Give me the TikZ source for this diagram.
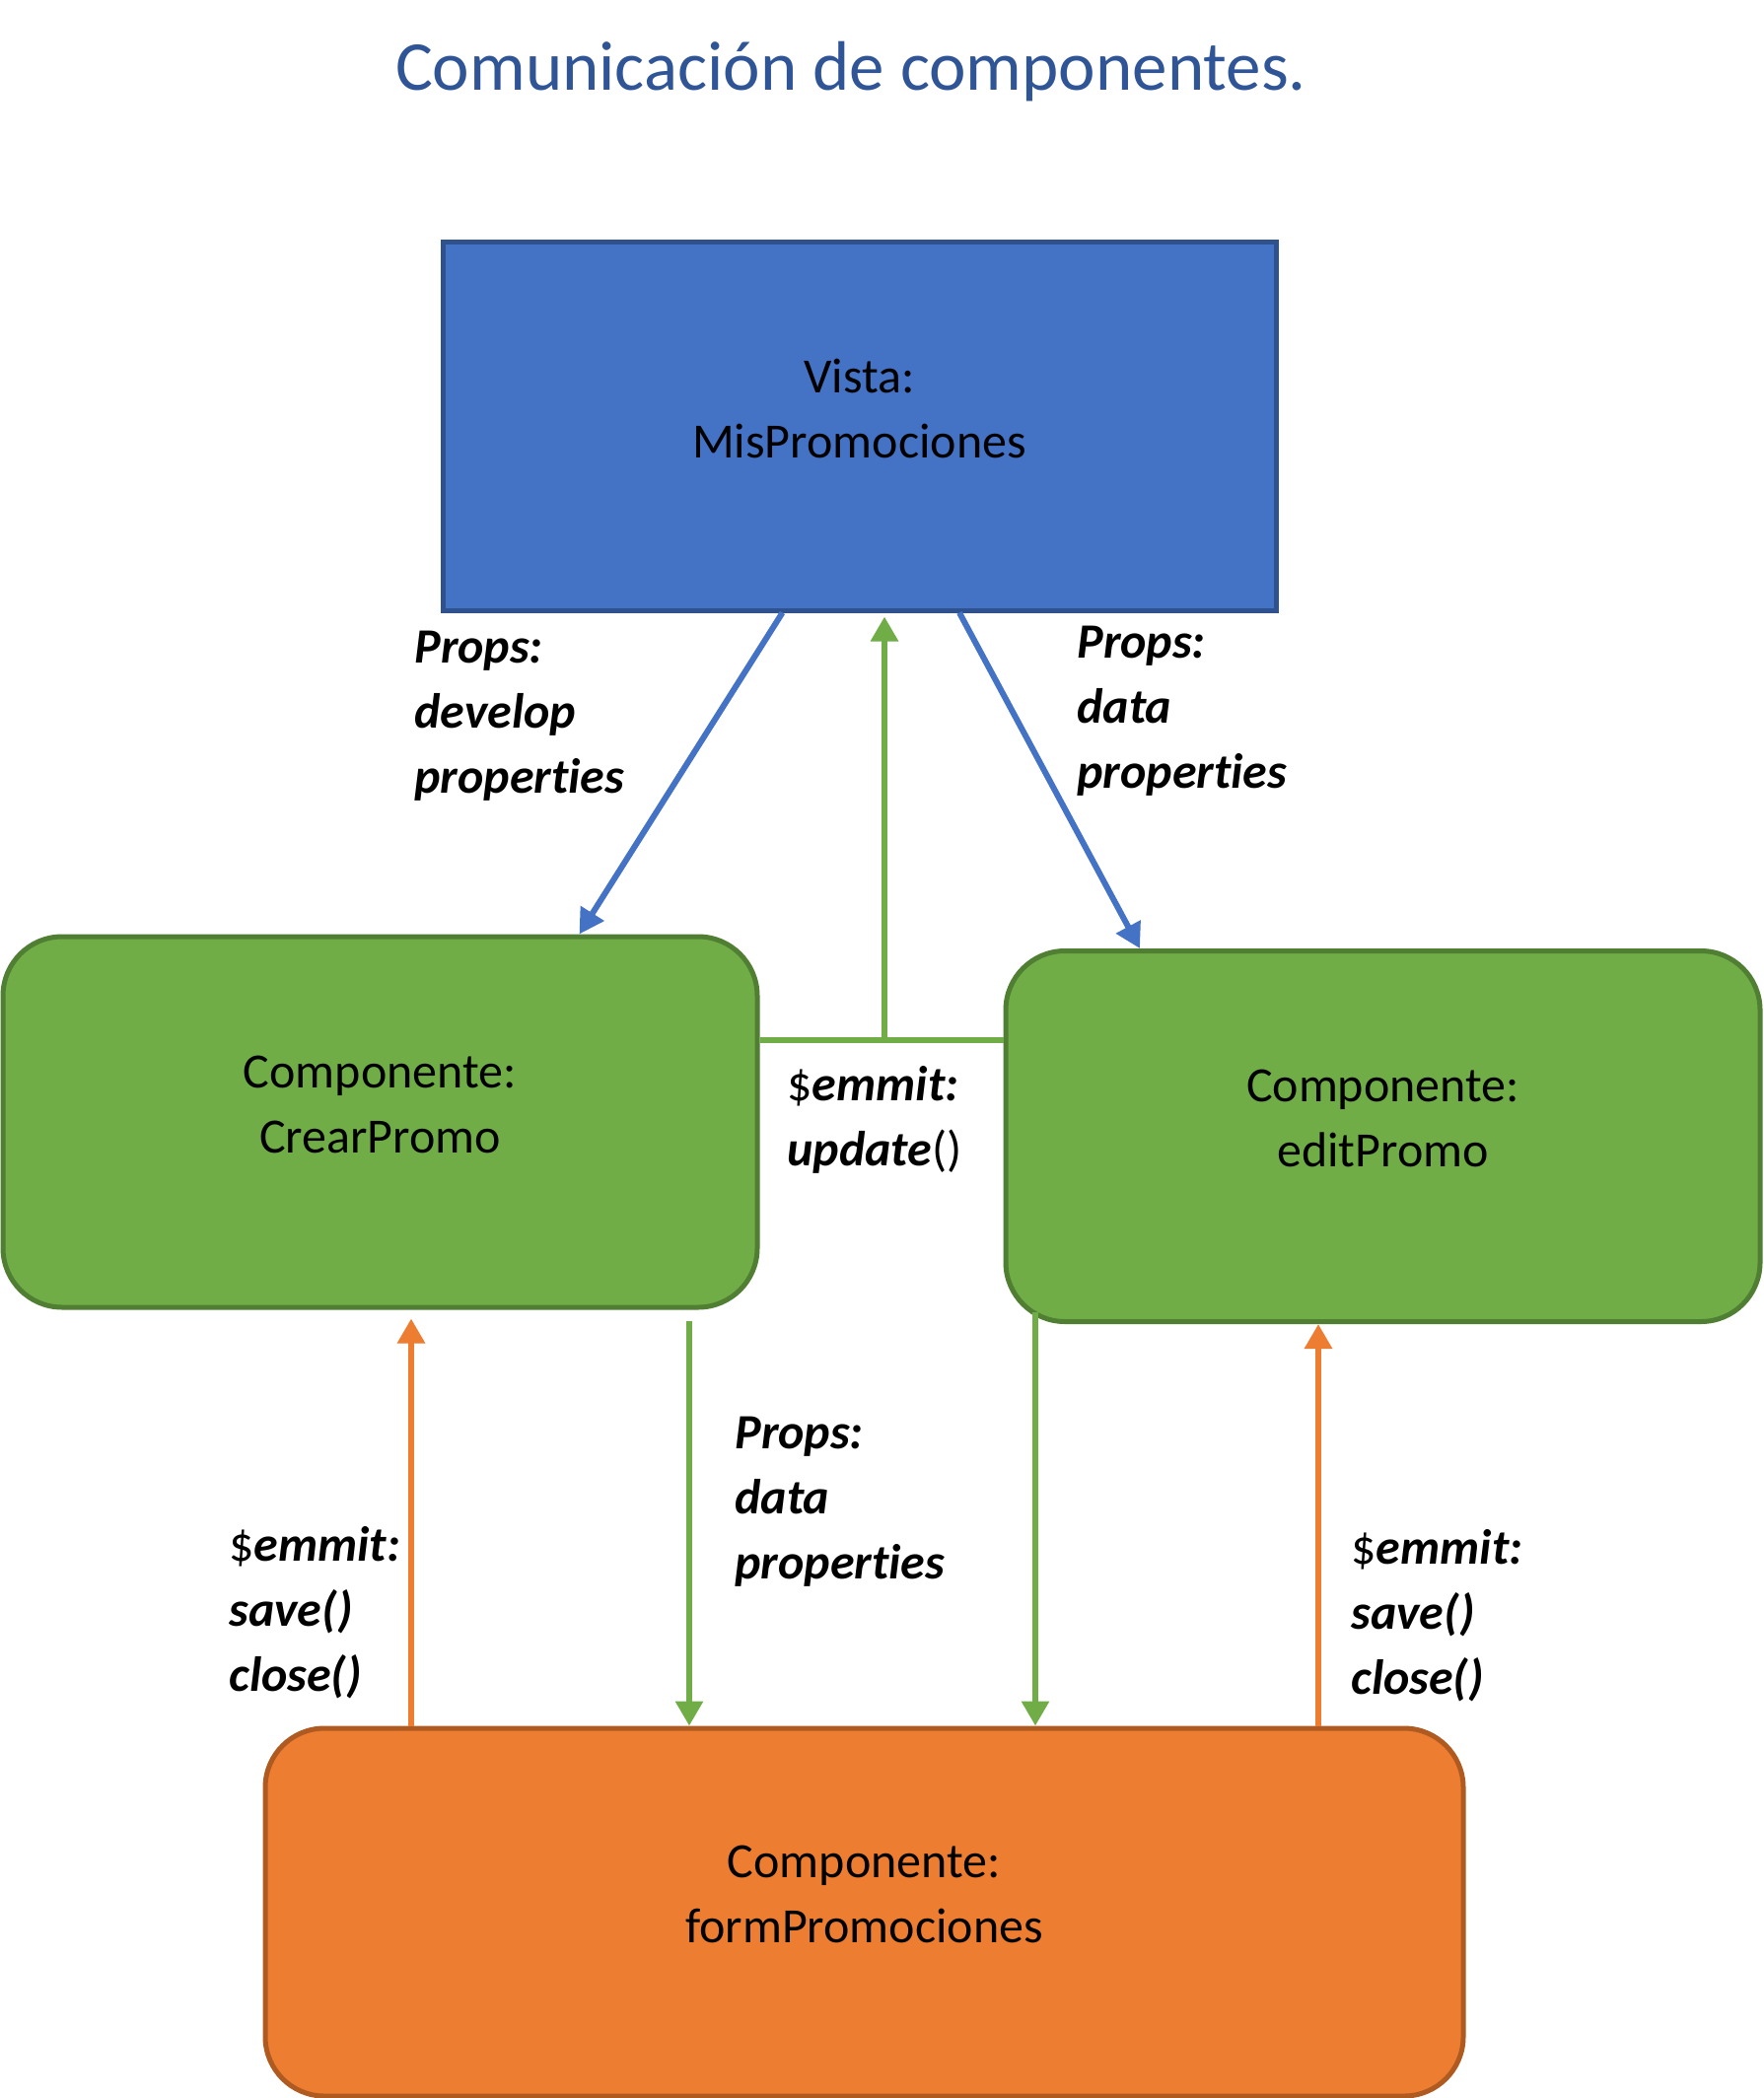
\documentclass[tikz,border=0pt]{standalone}
\usepackage{fontspec}
\setmainfont{Carlito}[Ligatures=NoCommon]
\usepackage{tikz}
\definecolor{vista_blue}{HTML}{4472C4}
\definecolor{vista_edge}{HTML}{2F528F}
\definecolor{comp_green}{HTML}{70AD47}
\definecolor{comp_edge}{HTML}{507E32}
\definecolor{form_orange}{HTML}{ED7D31}
\definecolor{form_edge}{HTML}{AE5A21}
\definecolor{title_blue}{HTML}{2F5597}
\tikzset{
  box_font/.style = {font=\fontsize{25}{33}\selectfont},
  label_font/.style = {font=\fontsize{25}{33}\selectfont\bfseries\itshape},
  title_font/.style = {font=\fontsize{35.5}{43}\selectfont},
  comp_size/.style = {minimum width=382.5pt, minimum height=188pt},
  form_size/.style = {minimum width=607.5pt, minimum height=186.5pt}
}
\tikzset{
  box/.style = {draw, line width=2.5pt, inner sep=0},
  vista_box/.style = {box, fill=vista_blue, draw=vista_edge, minimum width=422.5pt, minimum height=186.5pt},
  comp_box/.style = {box, comp_size, rounded corners=30pt, fill=comp_green, draw=comp_edge},
  form_box/.style = {box, form_size, rounded corners=30pt, fill=form_orange, draw=form_edge},
  box_text/.style = {box_font, align=center, yshift=9pt},
  props/.style = {label_font, align=left, anchor=west, inner sep=0}
}
\tikzset{
  arrow_tip/.style = {-{Triangle[length=12.5pt, width=13.5pt]}},
  blue_arrow/.style = {arrow_tip, draw=vista_blue, line width=3pt},
  green_line/.style = {draw=comp_green, line width=3pt},
  green_arrow/.style = {green_line, arrow_tip},
  orange_arrow/.style = {arrow_tip, draw=form_orange, line width=3pt}
}
\usetikzlibrary{arrows.meta, positioning, calc}

\begin{document}
\begin{tikzpicture}[x=0.5pt, y=-0.5pt]
    \useasboundingbox (0,0) rectangle (1788,2128);

    % Title
    \node[title_font, text=title_blue, anchor=base] (title) at (863,92) {
        Comunicación de componentes.};

    % Boxes
    \node[vista_box] (vista) at (871.5,432.5) {};
    \node[comp_box] (crear) at (385.5,1138) {};
    \node[comp_box] (edit) at (1402.5,1152.5) {};
    \node[form_box] (form) at (876.5,1939.5) {};

    \node[box_text] at (vista.center) (vista_txt) {Vista:\\MisPromociones};
    \node[box_text] at (crear.center) (crear_txt) {Componente:\\CrearPromo};
    \node[box_text] at (edit.center) (edit_txt) {Componente:\\editPromo};
    \node[box_text] at (form.center) (form_txt) {Componente:\\formPromociones};

    % Labels
    \node[props] at (420,726) (props_develop) {
        Props:\\develop\\properties};
    \node[props] at (1092,721) (props_data) {
        Props:\\data\\properties};
    \node[props] at (798,1136) (emmit_update) {
        {\normalfont\$}emmit:\\update{\normalfont()}};
    \node[props] at (745,1523) (props_form) {
        Props:\\data\\properties};
    \node[props] at (232,1636) (emmit_crear) {
        {\normalfont\$}emmit:\\save()\\close()};
    \node[props] at (1370,1639) (emmit_edit) {
        {\normalfont\$}emmit:\\save()\\close()};

    % Arrows and lines
    \draw[blue_arrow] ([xshift=-39pt]vista.south)--([xshift=101pt]crear.north);
    \draw[blue_arrow] ([xshift=50.75pt]vista.south)--([xshift=-123.25pt]edit.north);

    \coordinate (join) at (897,1055);
    \draw[green_line] (crear.east |- join)--(edit.west |- join);
    \draw[green_arrow] (join)--([yshift=-2pt]join |- vista.south);

    \draw[orange_arrow] ([xshift=-229.75pt]form.north)--([xshift=15.75pt, yshift=-4.5pt]crear.south);
    \draw[green_arrow] ([xshift=156.75pt, yshift=-5.5pt]crear.south)--([xshift=-88.75pt]form.north);
    \draw[green_arrow] ([xshift=86.75pt]form.north |- edit.south) ++(0,-12)--([xshift=86.75pt]form.north);
    \draw[orange_arrow] ([xshift=230.25pt]form.north)--([xshift=-32.75pt]edit.south);
\end{tikzpicture}
\end{document}
